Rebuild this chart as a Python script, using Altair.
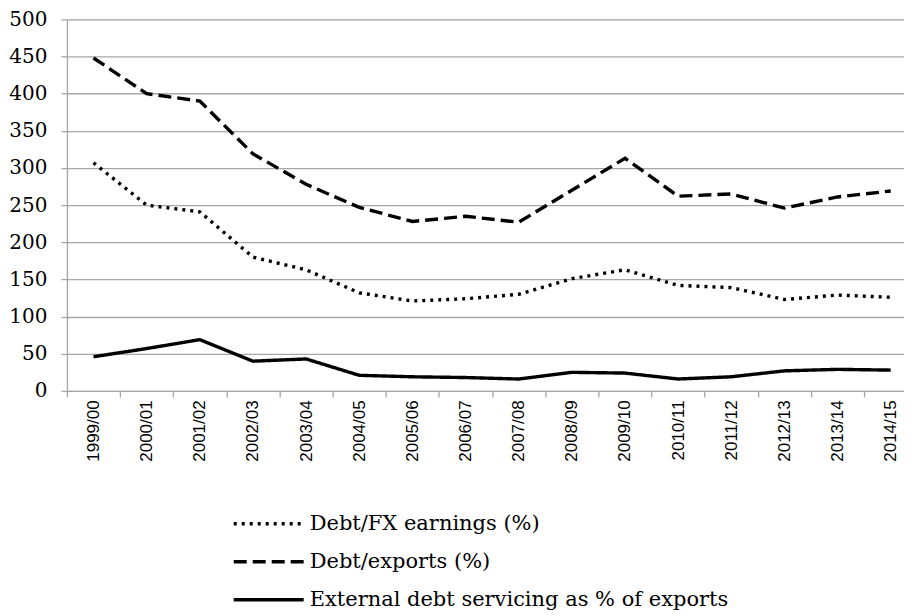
import altair as alt
import pandas as pd

periods = ["1999/00", "2000/01", "2001/02", "2002/03", "2003/04", "2004/05", "2005/06", "2006/07",
           "2007/08", "2008/09", "2009/10", "2010/11", "2011/12", "2012/13", "2013/14", "2014/15"]
debt_fx = [307, 250, 241, 180, 163, 132, 121, 124, 130, 151, 163, 142, 139, 123, 129, 126]
debt_exports = [448, 400, 390, 319, 278, 247, 228, 235, 227, 270, 313, 262, 265, 246, 261, 269]
servicing = [46, 57, 69, 40, 43, 21, 19, 18, 16, 25, 24, 16, 19, 27, 29, 28]
series_names = ["Debt/FX earnings (%)", "Debt/exports (%)", "External debt servicing as % of exports"]

rows = []
for name, vals in zip(series_names, [debt_fx, debt_exports, servicing]):
    for i, (p, v) in enumerate(zip(periods, vals)):
        rows.append({"series": name, "period": p, "pos": i + 0.5, "value": v})
df = pd.DataFrame(rows)

label_js = "[" + ",".join('"%s"' % p for p in periods) + "]"
grid = "#a6a6a6"

chart = alt.Chart(df).mark_line(color="black", strokeWidth=3.4).encode(
    x=alt.X("pos:Q",
            scale=alt.Scale(domain=[0, 15.75], nice=False, zero=False),
            axis=alt.Axis(values=[i * 0.5 for i in range(32)],
                          labelExpr="datum.value % 1 == 0 ? '' : " + label_js + "[floor(datum.value)]",
                          tickOpacity={"condition": {"test": "datum.value % 1 == 0", "value": 1}, "value": 0},
                          tickSize=6, tickColor=grid, tickWidth=1.3,
                          domainColor=grid, domainWidth=1.3,
                          grid=False, title=None, labelAngle=270,
                          labelFont="Liberation Sans", labelFontSize=17, labelColor="black",
                          labelPadding=3, labelFlush=False, labelOverlap=False, labelBound=False)),
    y=alt.Y("value:Q",
            scale=alt.Scale(domain=[0, 500], nice=False),
            axis=alt.Axis(values=list(range(0, 501, 50)), grid=True, gridColor=grid, gridWidth=1.3,
                          tickColor=grid, tickSize=6, tickWidth=1.3, domainColor=grid, domainWidth=1.3,
                          title=None, labelFont="DejaVu Serif", labelFontSize=20, labelColor="black",
                          labelPadding=14)),
    strokeDash=alt.StrokeDash("series:N",
                              scale=alt.Scale(domain=series_names, range=[[3, 5], [13, 6], [1, 0]]),
                              legend=alt.Legend(orient="none", legendX=165, legendY=494, title=None,
                                                direction="vertical", symbolType="stroke",
                                                symbolSize=4900, symbolStrokeWidth=3.4,
                                                symbolStrokeColor="black", clipHeight=22,
                                                rowPadding=16, labelOffset=4,
                                                labelFont="DejaVu Serif", labelFontSize=21,
                                                labelColor="black", labelLimit=600)),
    detail="series:N",
).properties(
    width=838, height=372,
    padding={"left": 59, "top": 11, "right": 0, "bottom": 228},
    autosize=alt.AutoSizeParams(type="none"),
).configure_view(stroke=None).configure(background="white")

chart.save("out.html", embed_options={"renderer": "svg", "actions": False})
